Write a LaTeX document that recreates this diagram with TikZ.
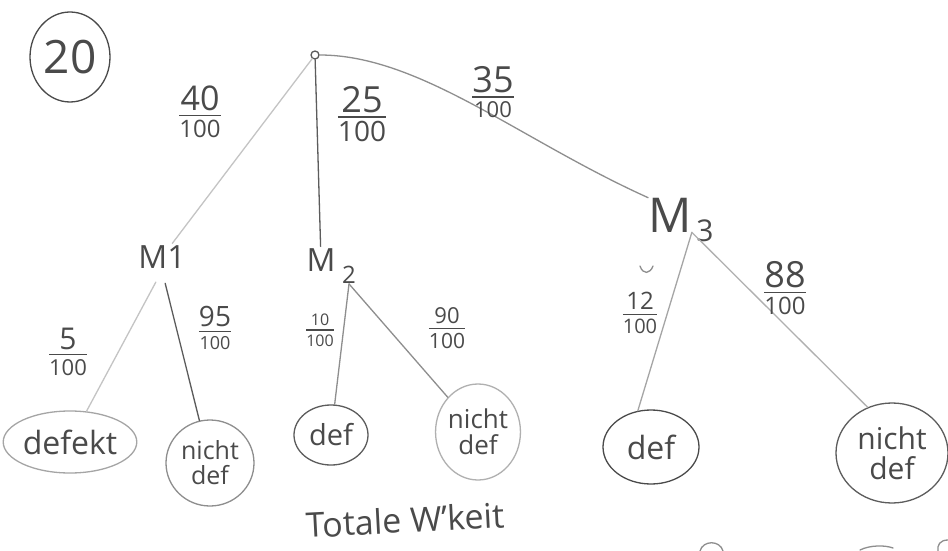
\documentclass[tikz,border=0pt]{standalone}
\usepackage{amsmath}
\usepackage{fontspec}
\setmainfont{Open Sans}
\usetikzlibrary{shapes.geometric}
\definecolor{ink}{HTML}{4A4A4A}
\definecolor{pale}{HTML}{C4C4C4}
\definecolor{mid}{HTML}{8E8E8E}
\definecolor{deep}{HTML}{5C5C5C}
% fraction with separate sizes for numerator and denominator
\newcommand\hfrac[4]{$\genfrac{}{}{1.3pt}{0}{\hbox{\fontsize{#1}{#1}\selectfont #2}}{\hbox{\fontsize{#3}{#3}\selectfont #4}}$}
\newcommand\fs[1]{\fontsize{#1}{#1}\selectfont}
\begin{document}
\begin{tikzpicture}[x=1pt,y=-1pt,
  lbl/.style={text=ink, inner sep=2pt},
  leaf/.style={shape=ellipse, draw, line width=1.3pt, inner sep=0pt, align=center, text=ink},
  br/.style={line width=1.3pt, line cap=round},
  fr/.style={text=ink, inner sep=0pt}]
\fill[white] (0,0) rectangle (948,551);
\useasboundingbox (0,0) rectangle (948,551);

% exercise number
\node[ellipse, draw=ink, line width=1.3pt, minimum width=80pt, minimum height=90pt,
      inner sep=0pt, text=ink, font=\fs{46}] (num) at (70,57) {20};

% root and first level
\node[circle, draw=deep, line width=1.3pt, minimum size=8pt, inner sep=0pt] (root) at (315,55) {};
\node[lbl, font=\fs{32}] (M1) at (162,257) {M1};
\node[lbl, font=\fs{32}] (M2) at (321,260) {M};
\node[lbl, font=\fs{24}, inner sep=0pt] (M2s) at (349,275) {2};
\node[lbl, font=\fs{48}, inner sep=0pt] (M3) at (670,215) {M};
\node[lbl, font=\fs{30}, inner sep=0pt] (M3s) at (705,231) {3};

% outcomes
\node[leaf, draw=mid!80, minimum width=120pt, minimum height=62pt, font=\fs{32}] (L1) at (70,442) {defekt};
\node[leaf, draw=mid, minimum width=88pt, minimum height=86pt, font=\fs{25}] (L2) at (210,463) {nicht\\def};
\node[leaf, draw=deep, minimum width=74pt, minimum height=60pt, font=\fs{29}] (L3) at (331,435) {def};
\node[leaf, draw=pale!90!black, minimum width=84pt, minimum height=96pt, font=\fs{26}] (L4) at (478,432) {nicht\\def};
\node[leaf, draw=ink, minimum width=96pt, minimum height=74pt, font=\fs{32}] (L5) at (651,447) {def};
\node[leaf, draw=deep, minimum width=112pt, minimum height=100pt, font=\fs{30}] (L6) at (892,453) {nicht\\def};

% branches
\draw[br, draw=pale] (root) -- (M1);
\draw[br, draw=deep] (root) -- (M2);
\draw[br, draw=mid] (root.east) .. controls (420,55) and (520,140) .. (M3.north west);
\draw[br, draw=pale, shorten <=13pt] (M1.south) -- (L1);
\draw[br, draw=deep, shorten <=13pt] (M1.south) -- (L2);
\draw[br, draw=mid] (M2s.south) -- (L3);
\draw[br, draw=mid] (M2s.south) -- (L4);
\draw[br, draw=mid!80] (M3.south east) -- (L5.110);
\draw[br, draw=pale!90!black] (M3.south east) -- (L6.118);

% branch probabilities
\node[fr] (p40) at (200,112) {\hfrac{34}{40}{24}{100}};
\node[fr] (p25) at (362,114) {\hfrac{36}{25}{28}{100}};
\node[fr] (p35) at (493,92) {\hfrac{36}{35}{22}{100}};
\node[fr] (p5) at (68,352) {\hfrac{30}{5}{22}{100}};
\node[fr] (p95) at (215,328) {\hfrac{28}{95}{18}{100}};
\node[fr] (p10) at (320,330) {\hfrac{16}{10}{16}{100}};
\node[fr] (p90) at (447,328) {\hfrac{22}{90}{21}{100}};
\node[fr] (p12) at (640,313) {\hfrac{24}{12}{20}{100}};
\node[fr] (p88) at (785,288) {\hfrac{36}{88}{24}{100}};

% stray pen marks
\draw[br, draw=mid] (640,266) .. controls (643,275) and (650,274) .. (653,266);
\draw[br, draw=mid] (700,551) .. controls (703,540) and (720,540) .. (723,551);
\draw[br, draw=mid] (860,550) .. controls (870,545) and (885,545) .. (893,548);
\draw[br, draw=mid] (948,540) .. controls (940,540) and (937,545) .. (938,551);

% caption
\node[text=ink, rotate=3, font=\fs{34}] (tw) at (405,520) {Totale W'keit};
\end{tikzpicture}
\end{document}
